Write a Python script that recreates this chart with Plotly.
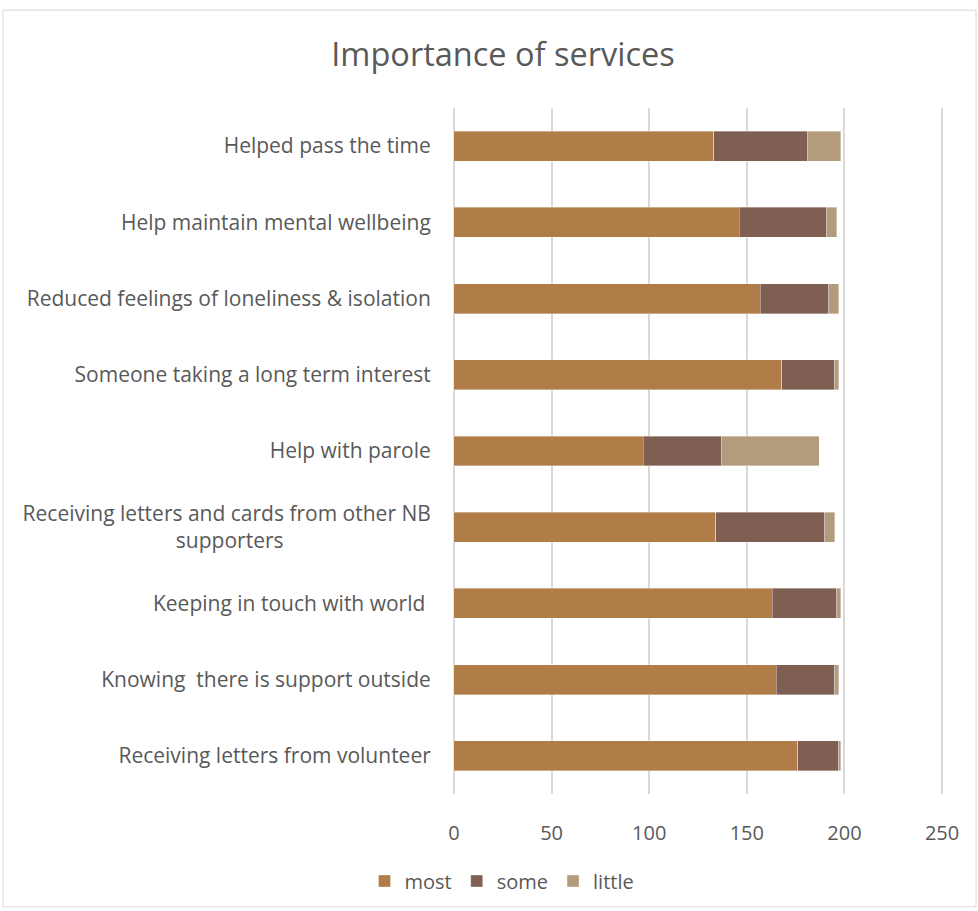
import plotly.graph_objects as go

categories = [
    "Receiving letters from volunteer",
    "Knowing  there is support outside",
    "Keeping in touch with world ",
    "Receiving letters and cards from other NB<br>supporters" + "&nbsp;" * 27,
    "Help with parole",
    "Someone taking a long term interest",
    "Reduced feelings of loneliness & isolation",
    "Help maintain mental wellbeing",
    "Helped pass the time",
]
most = [176, 165, 163, 134, 97, 168, 157, 146, 133]
some = [21, 30, 33, 56, 40, 27, 35, 45, 48]
little = [1, 2, 2, 5, 50, 2, 5, 5, 17]

series_names = ["most", "some", "little"]
colors = ["#B07C48", "#7F5F51", "#B39C7C"]

fig = go.Figure()
for name, vals, col in zip(series_names, [most, some, little], colors):
    fig.add_trace(go.Bar(
        y=categories, x=vals, name=name, orientation="h",
        marker=dict(color=col, line=dict(width=0.6, color="rgba(255,255,255,0.6)")),
    ))

L, R, T, B = 452, 34, 108, 116
W, H = 978, 911
pw = W - L - R
ph = H - T - B

def px_x(p):
    return (p - L) / pw

def px_y(p):
    return (H - B - p) / ph

font_fam = "'Open Sans', sans-serif"

fig.update_layout(
    width=W, height=H,
    barmode="stack",
    bargap=0.607,
    plot_bgcolor="white",
    paper_bgcolor="white",
    margin=dict(l=L, r=R, t=T, b=B),
    font=dict(family=font_fam, color="#595959", size=18),
    title=dict(text="Importance of services", x=503 / W, xanchor="center",
               y=1 - 55 / H, yanchor="middle", yref="container",
               font=dict(size=32.5, color="#595959", family=font_fam)),
    xaxis=dict(range=[-1, 251], tickvals=[0, 50, 100, 150, 200, 250],
               showgrid=True, gridcolor="#D9D9D9",
               gridwidth=1.5, zeroline=True, zerolinecolor="#D9D9D9",
               zerolinewidth=1.5, showline=False,
               tickfont=dict(size=20, color="#595959"),
               ticks="outside", ticklen=21, tickcolor="rgba(0,0,0,0)"),
    yaxis=dict(showgrid=False, showline=False, ticks="outside", ticklen=16,
               tickcolor="rgba(0,0,0,0)",
               tickfont=dict(size=21, color="#595959"), automargin=False),
    legend=dict(orientation="h", x=px_x(502), xanchor="center",
                y=px_y(881), yanchor="middle", font=dict(size=20, color="#595959"),
                traceorder="normal", itemwidth=30),
    showlegend=True,
)

fig.add_shape(type="rect", xref="paper", yref="paper",
              x0=px_x(3), x1=px_x(976), y0=px_y(908), y1=px_y(10),
              line=dict(color="#D9D9D9", width=1), fillcolor="rgba(0,0,0,0)", layer="below")

fig.write_html("out.html")
